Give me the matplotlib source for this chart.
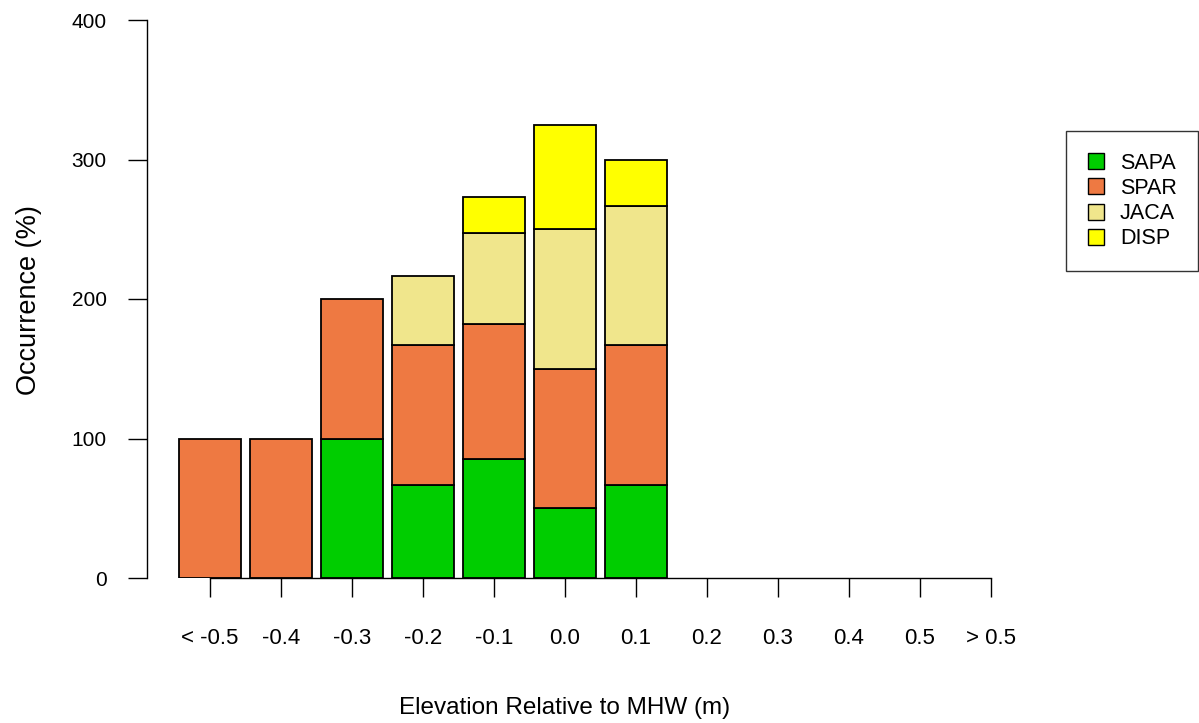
import matplotlib
matplotlib.use("Agg")
import matplotlib.pyplot as plt
from matplotlib.patches import Patch
import numpy as np

categories = ["< -0.5", "-0.4", "-0.3", "-0.2", "-0.1", "0.0", "0.1", "0.2", "0.3", "0.4", "0.5", "> 0.5"]
species = ["SAPA", "SPAR", "JACA", "DISP"]
SAPA = [0, 0, 100, 66.7, 85.2, 50, 66.7, 0, 0, 0, 0, 0]
SPAR = [100, 100, 100, 100, 96.8, 100, 100, 0, 0, 0, 0, 0]
JACA = [0, 0, 0, 50, 65.0, 100, 100, 0, 0, 0, 0, 0]
DISP = [0, 0, 0, 0, 26.0, 75, 33.3, 0, 0, 0, 0, 0]
colors = ["#00CD00", "#EE7942", "#F0E68C", "#FFFF00"]
yticks = [0, 100, 200, 300, 400]

plt.rcParams['font.family'] = ['Liberation Sans', 'DejaVu Sans']

W, H = 1199, 723
fig = plt.figure(figsize=(W / 100, H / 100), dpi=100)
ax_left, ax_right = 147, 1000
ax_bot, ax_top = 578, 20
ax = fig.add_axes([ax_left / W, 1 - ax_bot / H, (ax_right - ax_left) / W, (ax_bot - ax_top) / H])

x0_px, pitch = 210, 71
ax.set_xlim((ax_left - x0_px) / pitch, (ax_right - x0_px) / pitch)
ax.set_ylim(0, 400)

x = np.arange(len(categories))
series = [SAPA, SPAR, JACA, DISP]
bottom = np.zeros(len(categories))
for vals, c in zip(series, colors):
    v = np.array(vals, dtype=float)
    mask = v > 0
    ax.bar(x[mask], v[mask], bottom=bottom[mask], width=0.86, color=c,
           edgecolor="black", linewidth=1.3, zorder=2)
    bottom += v

for s in ["top", "right", "bottom"]:
    ax.spines[s].set_visible(False)
ax.spines["left"].set_linewidth(1.0)

# R-style x axis line from first to last tick
ax.plot([x[0], x[-1]], [0, 0], color="black", linewidth=1.0, clip_on=False, zorder=3)
ax.set_xticks(x)
ax.set_xticklabels(categories, fontsize=16)
ax.tick_params(axis="x", direction="out", length=14, width=1.0, pad=22)
ax.set_yticks(yticks)
ax.set_yticklabels([str(t) for t in yticks], fontsize=15)
ax.tick_params(axis="y", direction="out", length=14, width=1.0, pad=15)

fig.text(565 / W, 1 - 708 / H, "Elevation Relative to MHW (m)", ha="center", va="center", fontsize=17.5)
fig.text(29 / W, 1 - 300 / H, "Occurrence (%)", ha="center", va="center", rotation=90, fontsize=19.5)

handles = [Patch(facecolor=c, edgecolor="black", linewidth=1.0) for c in colors]
leg = fig.legend(handles, species, loc="upper left",
                 bbox_to_anchor=(1066 / W, 1 - 131 / H), bbox_transform=fig.transFigure,
                 fontsize=15.5, frameon=True, fancybox=False, edgecolor="black",
                 handlelength=0.75, handleheight=0.75, handletextpad=0.75,
                 labelspacing=0.2, borderpad=1.0, borderaxespad=0)
leg.get_frame().set_linewidth(1.0)

fig.savefig("out.png", dpi=100)
